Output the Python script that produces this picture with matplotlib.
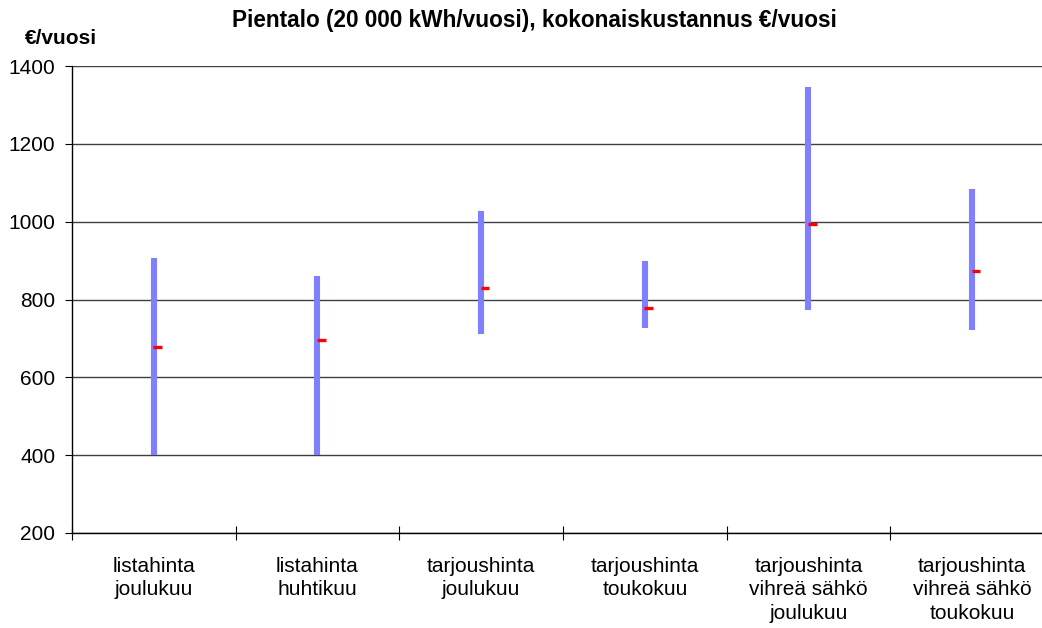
import numpy as np
import matplotlib
matplotlib.use("Agg")
import matplotlib.pyplot as plt

plt.rcParams['font.family'] = ['Liberation Sans', 'DejaVu Sans']

# arvot luettu kuvasta (€/vuosi)
categories = ["listahinta\njoulukuu", "listahinta\nhuhtikuu", "tarjoushinta\njoulukuu",
              "tarjoushinta\ntoukokuu", "tarjoushinta\nvihreä sähkö\njoulukuu",
              "tarjoushinta\nvihreä sähkö\ntoukokuu"]
high = [907, 861, 1027, 898, 1346, 1083]
low = [400, 400, 711, 726, 773, 722]
avg = [678, 695, 829, 779, 993, 872]
yticks = [200, 400, 600, 800, 1000, 1200, 1400]

fig = plt.figure(figsize=(10.42, 6.28), dpi=100)
# plot-alue jatkuu hieman kuvan oikean reunan yli kuten alkuperäisessä
ax = fig.add_axes([72 / 1042, 1 - 533 / 628, 982 / 1042, 467 / 628])

x = np.arange(len(categories))
ax.vlines(x, low, high, color="#8080ff", lw=4.4, zorder=3)
ax.hlines(avg, x - 0.003, x + 0.05, color="#ff0000", lw=2.4, zorder=4)

ax.set_xlim(-0.5, len(categories) - 0.5)
ax.set_ylim(200, 1400)
ax.set_yticks(yticks)
ax.yaxis.grid(True, color="#404040", lw=1)
ax.set_axisbelow(True)

ax.set_xticks(x)
ax.set_xticklabels(categories, fontsize=15, linespacing=1.3)
ax.set_xticks(np.arange(-0.5, len(categories), 1), minor=True)
ax.tick_params(axis="x", which="major", length=0, pad=17)
ax.tick_params(axis="x", which="minor", direction="inout", length=10, width=0.8)
ax.tick_params(axis="y", direction="out", length=5, width=0.8, labelsize=15, pad=7)

for s in ["top", "right"]:
    ax.spines[s].set_visible(False)
ax.spines["left"].set_linewidth(1)
ax.spines["bottom"].set_linewidth(1)

fig.text(534 / 1042, 0.968, "Pientalo (20 000 kWh/vuosi), kokonaiskustannus €/vuosi",
         ha="center", va="center", fontsize=16.3, fontweight="bold")
fig.text(25 / 1042, 1 - 38 / 628, "€/vuosi", ha="left", va="center",
         fontsize=15, fontweight="bold")

fig.savefig("out.png", dpi=100, facecolor="white")
